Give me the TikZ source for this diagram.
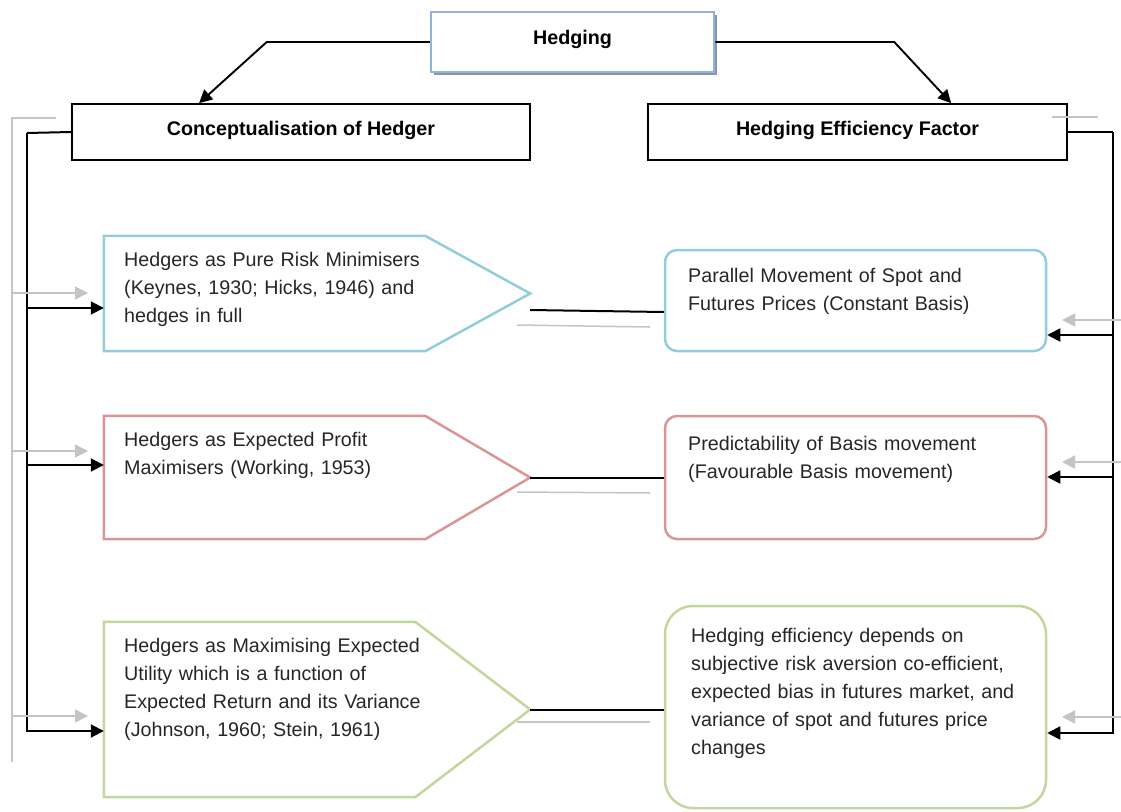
\documentclass[tikz,border=0pt]{standalone}
\usepackage{fontspec}
\setmainfont{Liberation Sans}
\usetikzlibrary{arrows.meta,shadows}

\definecolor{hedgeblue}{HTML}{95B3D7}
\definecolor{shadeblue}{HTML}{8497B0}
\definecolor{cyanline}{HTML}{92CDDC}
\definecolor{redline}{HTML}{D99694}
\definecolor{greenline}{HTML}{C3D69B}
\definecolor{ghostgray}{HTML}{C4C4C4}

\begin{document}
\begin{tikzpicture}[
  x=1pt, y=-1pt,
  font=\fontsize{19.7}{28}\selectfont,
  >={Triangle[length=13pt,width=13pt]},
  topbox/.style={
    rectangle, draw=hedgeblue, fill=white, line width=2.5pt, inner sep=0pt,
    font=\fontsize{19.7}{28}\selectfont\bfseries,
    drop shadow={shadow xshift=3pt, shadow yshift=-3pt, fill=shadeblue, opacity=1}
  },
  header/.style={
    rectangle, draw=black, line width=1.8pt, inner sep=0pt,
    font=\fontsize{19.7}{28}\selectfont\bfseries
  },
  view/.style={rectangle, draw=none, inner sep=0pt},
  factorbox/.style={rectangle, line width=2.5pt, inner sep=0pt},
  txt/.style={anchor=base west, align=left, text width=420pt, inner sep=0pt, text=black!85},
  line/.style={line width=2pt, draw=black},
  arr/.style={->, line width=1.9pt, draw=black},
  ghost/.style={line width=1.5pt, draw=ghostgray},
  ghostarr/.style={->, line width=1.5pt, draw=ghostgray},
]
\useasboundingbox (0,0) rectangle (1121,811);

%% Title and the two headers
\node[topbox, minimum width=283pt, minimum height=60pt] (hedging) at (572.5,42) {\raisebox{10pt}{Hedging}};
\node[header, minimum width=458pt, minimum height=56pt] (concept) at (301,132) {\raisebox{7.5pt}{Conceptualisation of Hedger}};
\node[header, minimum width=419pt, minimum height=56pt] (factor) at (857.5,132) {\raisebox{7.5pt}{Hedging Efficiency Factor}};

\draw[arr] (hedging.west) -- ++(-163,0) -- ([xshift=128pt]concept.north west);
\draw[arr] (hedging.east) -- ++(179,0) -- ([xshift=304pt]factor.north west);

%% Views of the hedger (arrow shaped panels)
\node[view, minimum width=426pt, minimum height=115pt] (view1) at (317,293.5) {};
\node[view, minimum width=426pt, minimum height=123pt] (view2) at (317,477.5) {};
\node[view, minimum width=426pt, minimum height=175pt] (view3) at (317,709.5) {};

\draw[cyanline, line width=2.5pt] (view1.north west) -- ([xshift=-105pt]view1.north east) -- (view1.east)
  -- ([xshift=-105pt]view1.south east) -- (view1.south west) -- cycle;
\draw[redline, line width=2.5pt] (view2.north west) -- ([xshift=-105pt]view2.north east) -- (view2.east)
  -- ([xshift=-105pt]view2.south east) -- (view2.south west) -- cycle;
\draw[greenline, line width=2.5pt] (view3.north west) -- ([xshift=-115pt]view3.north east) -- (view3.east)
  -- ([xshift=-115pt]view3.south east) -- (view3.south west) -- cycle;

\node[txt] (view1txt) at (124,266) {Hedgers as Pure Risk Minimisers\\(Keynes, 1930; Hicks, 1946) and\\hedges in full};
\node[txt] (view2txt) at (124,446) {Hedgers as Expected Profit\\Maximisers (Working, 1953)};
\node[txt] (view3txt) at (124,652) {Hedgers as Maximising Expected\\Utility which is a function of\\Expected Return and its Variance\\(Johnson, 1960; Stein, 1961)};

%% Efficiency factors (rounded boxes)
\node[factorbox, draw=cyanline, rounded corners=12pt, minimum width=381pt, minimum height=101pt] (basis1) at (855.5,300.5) {};
\node[factorbox, draw=redline, rounded corners=12pt, minimum width=381pt, minimum height=123pt] (basis2) at (855.5,477.5) {};
\node[factorbox, draw=greenline, rounded corners=28pt, minimum width=381pt, minimum height=202pt] (basis3) at (855.5,707) {};

\node[txt] (basis1txt) at (688,282) {Parallel Movement of Spot and\\Futures Prices (Constant Basis)};
\node[txt] (basis2txt) at (688,450) {Predictability of Basis movement\\(Favourable Basis movement)};
\node[txt] (basis3txt) at (691,642) {Hedging efficiency depends on\\subjective risk aversion co-efficient,\\expected bias in futures market, and\\variance of spot and futures price\\changes};

%% Left bus
\draw[line] (concept.west) -- (27,133) coordinate (lbus);
\draw[arr] (lbus) |- (view3.west |- 0,731);
\draw[arr] (lbus |- 0,308) -- (view1.west |- 0,308);
\draw[arr] (lbus |- 0,465) -- (view2.west |- 0,465);

%% Right bus
\draw[line] (factor.east) -- (1113,132) coordinate (rbus);
\draw[arr] (rbus) |- (basis3.east |- 0,733);
\draw[arr] (rbus |- 0,335) -- (basis1.east |- 0,335);
\draw[arr] (rbus |- 0,477) -- (basis2.east |- 0,477);

%% Links between views and factors
\draw[line] (view1.east |- 0,310) -- (basis1.west |- 0,312);
\draw[line] (view2.east) -- (basis2.west |- view2.east);
\draw[line] (view3.east) -- (basis3.west |- view3.east);

%% Faint ghost copies of the connectors
\coordinate (gtop) at (56,118);
\coordinate (gbus) at (12,118);
\coordinate (gend) at (12,762);
\draw[ghost] (gtop) -- (gbus) -- (gend);
\draw[ghostarr] (gbus |- 0,293) -- (88,293);
\draw[ghostarr] (gbus |- 0,451) -- (88,451);
\draw[ghostarr] (gbus |- 0,716) -- (88,716);
\draw[ghost] (517,325) -- (650,327);
\draw[ghost] (517,492) -- (650,493);
\draw[ghost] (517,722) -- (650,722);
\draw[ghost] (1052,117) -- (1098,117);
\draw[ghostarr] (1121,320) -- (1062,320);
\draw[ghostarr] (1121,462) -- (1062,462);
\draw[ghostarr] (1121,717) -- (1062,717);

\end{tikzpicture}
\end{document}
